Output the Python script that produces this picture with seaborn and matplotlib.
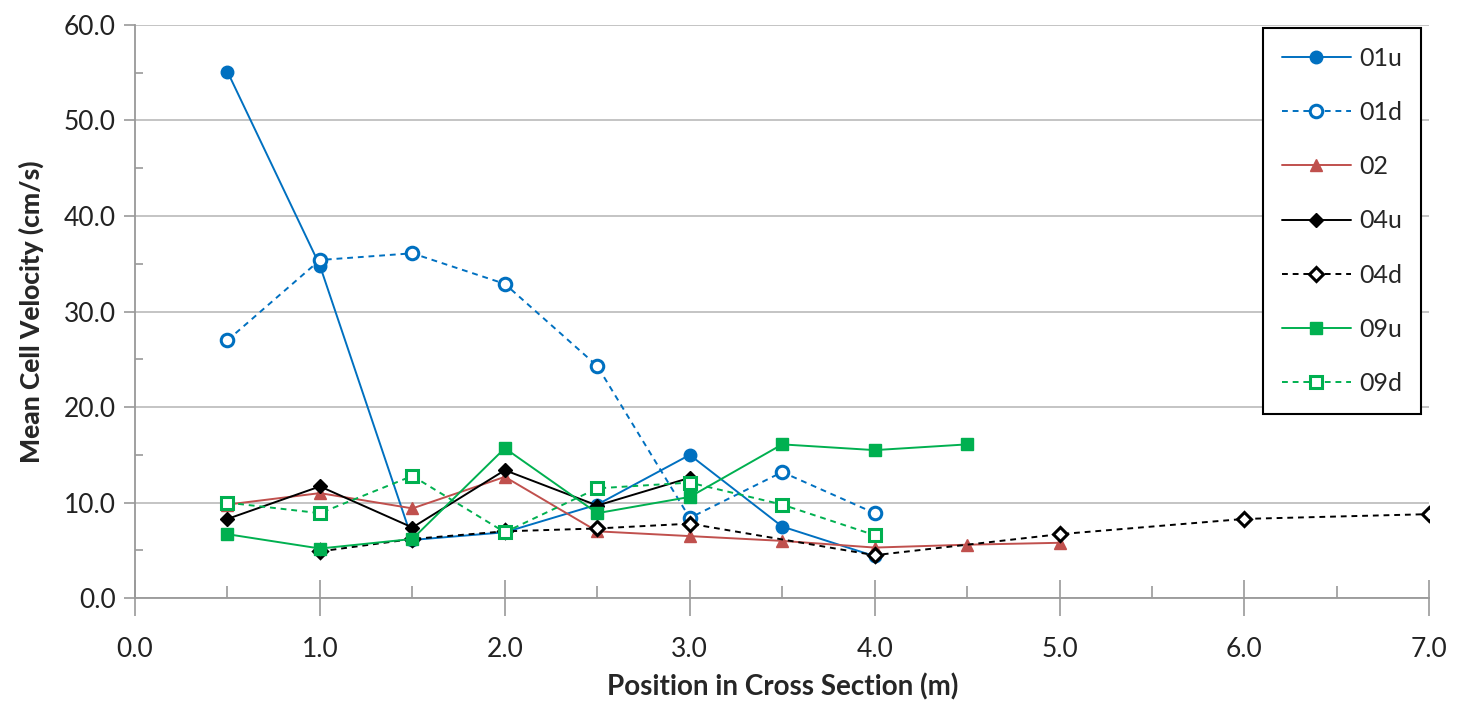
import matplotlib
matplotlib.use("Agg")
import matplotlib.pyplot as plt
import seaborn as sns
import pandas as pd

# data
x_01u = [0.5, 1.0, 1.5, 2.0, 2.5, 3.0, 3.5, 4.0]
v_01u = [55.1, 34.8, 6.1, 6.9, 9.8, 15.0, 7.5, 4.4]

x_01d = [0.5, 1.0, 1.5, 2.0, 2.5, 3.0, 3.5, 4.0]
v_01d = [27.0, 35.4, 36.1, 32.9, 24.3, 8.4, 13.2, 8.9]

x_02 = [0.5, 1.0, 1.5, 2.0, 2.5, 3.0, 3.5, 4.0, 4.5, 5.0]
v_02 = [9.8, 11.0, 9.4, 12.7, 7.0, 6.5, 6.0, 5.3, 5.6, 5.8]

x_04u = [0.5, 1.0, 1.5, 2.0, 2.5, 3.0]
v_04u = [8.3, 11.7, 7.4, 13.4, 9.7, 12.6]

x_04d = [1.0, 1.5, 2.0, 2.5, 3.0, 4.0, 5.0, 6.0, 7.0]
v_04d = [4.9, 6.2, 7.0, 7.3, 7.8, 4.5, 6.7, 8.3, 8.8]

x_09u = [0.5, 1.0, 1.5, 2.0, 2.5, 3.0, 3.5, 4.0, 4.5]
v_09u = [6.7, 5.2, 6.2, 15.7, 8.9, 10.6, 16.1, 15.5, 16.1]

x_09d = [0.5, 1.0, 1.5, 2.0, 2.5, 3.0, 3.5, 4.0]
v_09d = [10.0, 8.9, 12.8, 6.9, 11.5, 12.1, 9.8, 6.6]

series = [
    ("01u", x_01u, v_01u, "#0070C0", "o", True),
    ("01d", x_01d, v_01d, "#0070C0", "o", False),
    ("02", x_02, v_02, "#C0504D", "^", True),
    ("04u", x_04u, v_04u, "black", "D", True),
    ("04d", x_04d, v_04d, "black", "D", False),
    ("09u", x_09u, v_09u, "#00B050", "s", True),
    ("09d", x_09d, v_09d, "#00B050", "s", False),
]

sns.set_style("white")
plt.rcParams['font.family'] = ['Lato', 'DejaVu Sans']

fig = plt.figure(figsize=(14.6, 7.13), dpi=100)
ax = fig.add_axes([0.0925, 0.161, 0.8865, 0.804])

for nome, xs, ys, cor, mk, cheio in series:
    df = pd.DataFrame({"pos": xs, "vel": ys})
    ms = 7 if mk == "D" else 9
    sns.lineplot(data=df, x="pos", y="vel", ax=ax, color=cor, marker=mk,
                 linewidth=1.4, markersize=ms,
                 markerfacecolor=cor if cheio else "white",
                 markeredgecolor=cor, markeredgewidth=1 if cheio else 2.2,
                 label=nome, errorbar=None)
    if not cheio:
        ax.lines[-1].set_dashes([3, 2.5])

ax.set_xlim(0, 7)
ax.set_ylim(0, 60)
ax.set_xticks([0, 1, 2, 3, 4, 5, 6, 7])
ax.set_xticks([0.5 * i for i in range(15)], minor=True)
ax.set_yticks(range(0, 61, 10))
ax.set_yticks(range(0, 61, 5), minor=True)
ax.set_xticklabels([f"{v:.1f}" for v in range(8)])
ax.set_yticklabels([f"{v:.1f}" for v in range(0, 61, 10)])
ax.tick_params(axis="both", labelsize=19, colors="#999999", labelcolor="#222222", width=1.2)
ax.tick_params(axis="x", which="major", direction="inout", length=26, pad=15, bottom=True)
ax.tick_params(axis="x", which="minor", direction="in", length=9, color="#999999", bottom=True, width=1.2)
ax.tick_params(axis="y", which="major", direction="out", length=8, pad=6, left=True)
ax.tick_params(axis="y", which="minor", direction="in", length=6, color="#999999", left=True, width=1.2)
ax.yaxis.grid(True, which="major", color="#bfbfbf", linewidth=1.3)
ax.set_axisbelow(True)

for lado in ["top", "right"]:
    ax.spines[lado].set_visible(False)
ax.spines["left"].set_color("#999999")
ax.spines["bottom"].set_color("#999999")
ax.spines["left"].set_linewidth(1.3)
ax.spines["bottom"].set_linewidth(1.3)

ax.set_xlabel("Position in Cross Section (m)", fontsize=20, fontweight="bold", labelpad=8)
ax.set_ylabel("Mean Cell Velocity (cm/s)", fontsize=19, fontweight="black", labelpad=14)

leg = ax.legend(loc="upper right", bbox_to_anchor=(0.9938, 0.9948), borderaxespad=0,
                fontsize=18, handlelength=2.75, handletextpad=0.35, labelspacing=1.25,
                borderpad=0.75, fancybox=False, framealpha=1, edgecolor="black")
leg.get_frame().set_linewidth(1.5)

plt.savefig("out.png", dpi=100)
